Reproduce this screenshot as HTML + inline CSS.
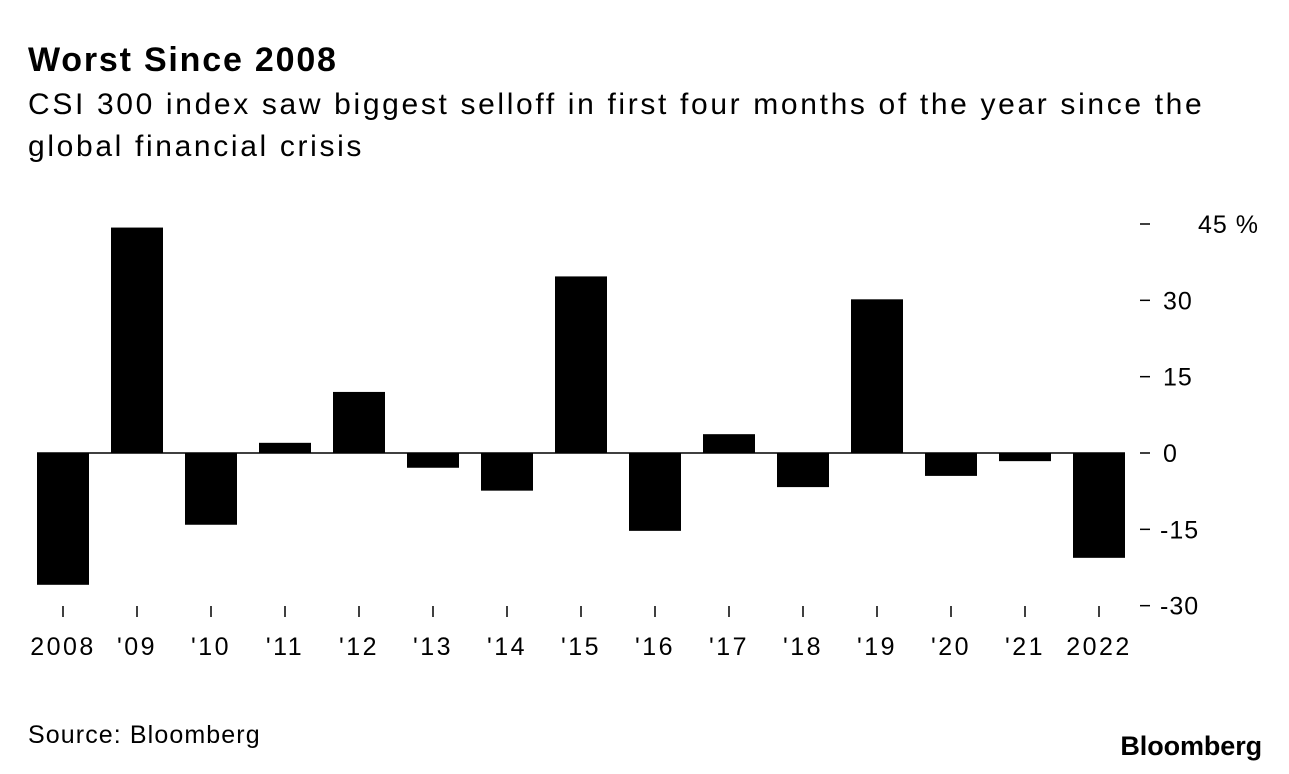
<!DOCTYPE html>
<html><head><meta charset="utf-8"><style>
body{margin:0;background:#fff;font-family:"Liberation Sans",sans-serif;color:#000}
#w{position:relative;width:1289px;height:774px;overflow:hidden}
.t{position:absolute;white-space:nowrap}
</style></head><body>
<div id="w">
<div class="t" style="left:28px;top:41px;font-size:34px;font-weight:bold;letter-spacing:1.8px">Worst Since 2008</div>
<div class="t" style="left:28px;top:84px;font-size:30px;line-height:42px;letter-spacing:2.65px">CSI 300 index saw biggest selloff in first four months of the year since the<br>global financial crisis</div>
<svg id="c" width="1289" height="774" style="position:absolute;left:0;top:0"></svg>
<div class="t" style="left:28px;top:721px;font-size:25px;letter-spacing:1.1px">Source: Bloomberg</div>
<div class="t" style="right:27px;top:731px;font-size:27px;font-weight:bold;letter-spacing:-0.1px">Bloomberg</div>
</div>
<script>
const categories=["2008","'09","'10","'11","'12","'13","'14","'15","'16","'17","'18","'19","'20","'21","2022"];
const values=[-25.9,44.3,-14.1,2.0,12.0,-2.9,-7.4,34.7,-15.3,3.7,-6.7,30.2,-4.5,-1.6,-20.6];
const yTicks=[45,30,15,0,-15,-30];
const yTickLabels=["45 %","30","15","0","-15","-30"];
const NS="http://www.w3.org/2000/svg";
const svg=document.getElementById('c');
function y(v){return 453-v*(229/45);}
function x(i){return 63+i*74;}
function mk(t,a){const e=document.createElementNS(NS,t);for(const k in a)e.setAttribute(k,a[k]);svg.appendChild(e);return e;}
values.forEach((v,i)=>{
 const r=mk('rect',{x:x(i)-26,y:Math.min(y(v),y(0)),width:52,height:Math.abs(y(v)-y(0)),fill:'#000'});
 
 
 const tk=mk('line',{x1:x(i),x2:x(i),y1:606,y2:617,stroke:'#000','stroke-width':1.5});
 
 
 const tx=mk('text',{x:x(i),y:655,'text-anchor':'middle','font-size':25,'letter-spacing':2.5,'font-family':'Liberation Sans, sans-serif'});
 tx.textContent=categories[i];
 
 
});
const zl=mk('line',{x1:37,x2:1125,y1:y(0),y2:y(0),stroke:'#000','stroke-width':1.5});


yTicks.forEach((v,i)=>{
 const d=mk('line',{x1:1140,x2:1150,y1:y(v),y2:y(v),stroke:'#000','stroke-width':1.5});
 
 
 const t=mk('text',{x:v===45?1198:(v<0?1160:1163),y:y(v)+9,'font-size':25,'letter-spacing':1,'font-family':'Liberation Sans, sans-serif'});
 t.textContent=yTickLabels[i];
 
 
});
</script>
</body></html>
